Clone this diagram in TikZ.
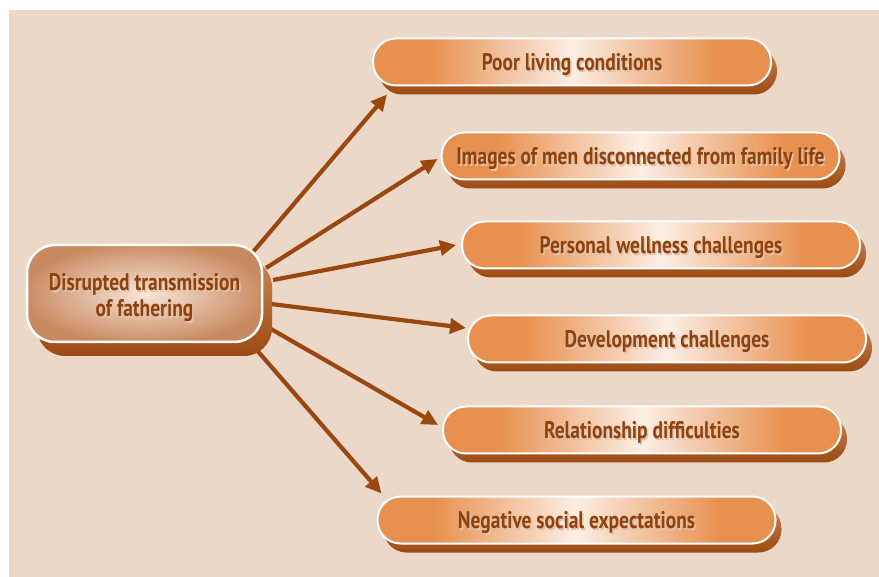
\documentclass[tikz,border=0pt]{standalone}
\usepackage{fontspec}
\usepackage{tikz}
\usetikzlibrary{arrows.meta, shadows}
\newfontfamily\labelfont[FakeStretch=0.81]{PT Sans}

\definecolor{paper}{HTML}{EBD8C8}
\definecolor{pillorange}{HTML}{E8904F}
\definecolor{pilllight}{HTML}{FCEEE4}
\definecolor{hubbrown}{HTML}{C98A62}
\definecolor{hublight}{HTML}{F8E6D8}
\definecolor{shadtop}{HTML}{C98556}
\definecolor{shadbot}{HTML}{9C4A12}
\definecolor{arrowbrown}{HTML}{9A4710}
\definecolor{txtbrown}{HTML}{8E420E}
\definecolor{txtglow}{HTML}{E2C2AA}

\pgfdeclarehorizontalshading{pillfill}{100bp}{color(0bp)=(pillorange); color(32bp)=(pillorange);
  color(50bp)=(pilllight); color(68bp)=(pillorange); color(100bp)=(pillorange)}
\pgfdeclareradialshading{hubfill}{\pgfpoint{0bp}{0bp}}{color(0bp)=(hublight); color(26bp)=(hubbrown);
  color(50bp)=(hubbrown)}

% text with a pale offset copy behind it
\newcommand{\softtext}[1]{\leavevmode\rlap{\hspace{1.5pt}\smash{\raisebox{-2pt}{\textcolor{txtglow}{#1}}}}#1}

\begin{document}
\begin{tikzpicture}[
  x=1pt, y=-1pt,
  pill/.style={
    rectangle, draw=white, line width=2pt, rounded corners=23pt,
    minimum width=398pt, minimum height=47pt,
    text height=19pt, text depth=2pt,
    shading=pillfill, text=txtbrown,
    font=\labelfont\bfseries\fontsize{24}{26}\selectfont,
    general shadow={shadow xshift=6pt, shadow yshift=-9pt,
      top color=shadtop, bottom color=shadbot}
  },
  hub/.style={
    rectangle, draw=white, line width=2.5pt, rounded corners=28pt,
    minimum width=235pt, minimum height=97pt, align=center,
    shading=hubfill, text=txtbrown,
    font=\labelfont\bfseries\fontsize{24}{26}\selectfont,
    general shadow={shadow xshift=10pt, shadow yshift=-14pt,
      top color=shadtop, bottom color=shadbot}
  },
  arr/.style={-{Triangle[length=16pt, width=15pt]}, line width=4.2pt, draw=arrowbrown}
]
\useasboundingbox (0,0) rectangle (879,577);
\fill[paper] (9,10) rectangle (879,577);

% arrows first, so the boxes sit on top of them
\coordinate (hubc) at (144.5,293.5);
\coordinate (o1) at (253,252);
\coordinate (o2) at (266,268);
\coordinate (o3) at (273,280);
\coordinate (o4) at (271,304);
\coordinate (o5) at (271,329);
\coordinate (o6) at (255,348);

\node[pill] (p1) at (572,62)   {\softtext{Poor living conditions}};
\node[pill] (p2) at (640.5,156) {\softtext{Images of men disconnected from family life}};
\node[pill] (p3) at (661,245)  {\softtext{Personal wellness challenges}};
\node[pill] (p4) at (667,339)  {\softtext{Development challenges}};
\node[pill] (p5) at (642,430)  {\softtext{Relationship difficulties}};
\node[pill] (p6) at (576.5,520) {\softtext{Negative social expectations}};

\draw[arr] (o1) -- ([shift={(15,8)}]p1.south west);
\draw[arr] (o2) -- ([shift={(-3,3)}]p2.west);
\draw[arr] (o3) -- ([shift={(-5,0)}]p3.west);
\draw[arr] (o4) -- ([shift={(-1,-11)}]p4.west);
\draw[arr] (o5) -- ([shift={(-4,-5)}]p5.west);
\draw[arr] (o6) -- ([shift={(5,-2)}]p6.north west);

% the strut pushes the two lines a little lower in the box
\node[hub] (hub) at (hubc) {\rule{0pt}{25.5pt}\softtext{Disrupted transmission}\\\softtext{of fathering}};

\end{tikzpicture}
\end{document}
